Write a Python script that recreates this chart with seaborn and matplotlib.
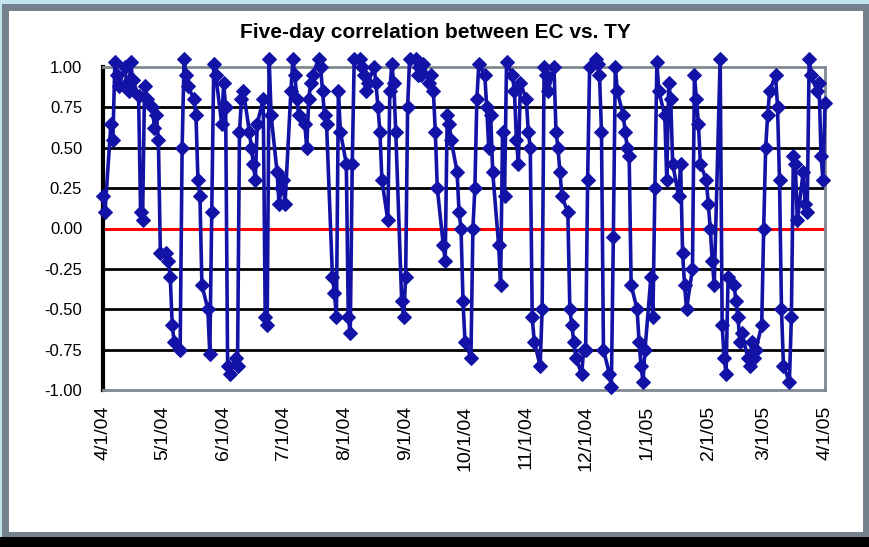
import pandas as pd
import matplotlib
matplotlib.use("Agg")
import matplotlib.pyplot as plt
import seaborn as sns
from matplotlib.patches import Rectangle

# daily 5-day correlation values, one list per month (business days)
apr04 = [0.2, 0.1, 0.65, 0.55, 1.03, 0.95, 0.88, 1.0, 0.9, 0.85, 1.03,
         0.92, 0.82, 0.1, 0.05, 0.88, 0.8, 0.75, 0.62, 0.7, 0.55, -0.15]
may04 = [-0.15, -0.2, -0.3, -0.6, -0.7, -0.75, 0.5, 1.05, 0.95, 0.88, 0.8,
         0.7, 0.3, 0.2, -0.35, -0.5, -0.78, 0.1, 1.02, 0.95, 0.65]
jun04 = [0.9, 0.75, -0.85, -0.9, -0.8, -0.85, 0.6, 0.8, 0.85, 0.6, 0.5,
         0.4, 0.3, 0.65, 0.8, -0.55, -0.6, 1.05, 0.7, 0.35, 0.15, 0.25]
jul04 = [0.3, 0.15, 0.85, 1.05, 0.95, 0.8, 0.7, 0.65, 0.5, 0.8, 0.9,
         0.95, 1.05, 1.0, 0.85, 0.7, 0.65, -0.3, -0.4, -0.55, 0.85, 0.6]
aug04 = [0.4, -0.55, -0.65, 0.4, 1.05, 1.05, 1.0, 0.95, 0.85, 0.9, 1.0,
         0.9, 0.75, 0.6, 0.3, 0.05, 0.85, 1.02, 0.9, 0.6, -0.45, -0.55]
sep04 = [-0.3, 0.75, 1.05, 1.05, 0.95, 1.0, 0.95, 1.02, 0.9, 0.95, 0.85,
         0.6, 0.25, -0.1, -0.2, 0.7, 0.65, 0.55, 0.35, 0.1, 0.0, -0.45]
oct04 = [-0.7, -0.8, 0.0, 0.25, 0.8, 1.02, 0.95, 0.75, 0.5, 0.7, 0.35,
         -0.1, -0.35, 0.6, 0.2, 1.03, 0.95, 0.85, 0.55, 0.4, 0.9]
nov04 = [0.8, 0.6, 0.5, -0.55, -0.7, -0.85, -0.5, 1.0, 0.95, 0.85, 1.0,
         0.6, 0.5, 0.35, 0.2, 0.1, -0.5, -0.6, -0.7, -0.8, -0.9, -0.75]
dec04 = [-0.75, 0.3, 1.0, 1.05, 1.02, 0.95, 0.6, -0.75, -0.9, -0.98, -0.05,
         1.0, 0.85, 0.7, 0.6, 0.5, 0.45, -0.35, -0.5, -0.7, -0.85, -0.95, -0.75]
jan05 = [-0.3, -0.55, 0.25, 1.03, 0.85, 0.7, 0.3, 0.9, 0.8, 0.4, 0.2,
         0.4, -0.15, -0.35, -0.5, -0.25, 0.95, 0.8, 0.65, 0.4, 0.3]
feb05 = [0.15, 0.0, -0.2, -0.35, 1.05, -0.6, -0.8, -0.9, -0.3, -0.35,
         -0.45, -0.55, -0.7, -0.65, -0.8, -0.85, -0.7, -0.8, -0.75, -0.6]
mar05 = [0.0, 0.5, 0.7, 0.85, 0.95, 0.75, 0.3, -0.5, -0.85, -0.95, -0.55,
         0.45, 0.4, 0.05, 0.35, 0.15, 0.1, 1.05, 0.95, 0.85, 0.9, 0.45, 0.3]
apr05 = [0.78]

corr = apr04 + may04 + jun04 + jul04 + aug04 + sep04 + oct04 + nov04 + dec04 + jan05 + feb05 + mar05 + apr05
dates = pd.bdate_range("2004-04-01", periods=len(corr))
df = pd.DataFrame({"date": dates, "corr": corr})

tick_labels = ["4/1/04", "5/1/04", "6/1/04", "7/1/04", "8/1/04", "9/1/04", "10/1/04",
               "11/1/04", "12/1/04", "1/1/05", "2/1/05", "3/1/05", "4/1/05"]
y_ticks = [1.0, 0.75, 0.5, 0.25, 0.0, -0.25, -0.5, -0.75, -1.0]

sns.set_style("white")
plt.rcParams["font.family"] = ["Liberation Sans", "DejaVu Sans"]

fig = plt.figure(figsize=(8.7, 5.47), dpi=100)
fig.patch.set_facecolor("#c0e3ee")

# outer frame + black strip at the bottom
fig.patches.append(Rectangle((5 / 870, 1 - 535 / 547), 861 / 870, 528 / 547,
                             transform=fig.transFigure, facecolor="white",
                             edgecolor="#74818d", linewidth=5, zorder=-2))
fig.patches.append(Rectangle((0, 0), 1, 10 / 547, transform=fig.transFigure,
                             facecolor="black", edgecolor="none", zorder=-2))

ax = fig.add_axes([103 / 870, 1 - 390 / 547, 722 / 870, 323 / 547])
ax.set_zorder(1)
ax.set_facecolor("white")

for v in y_ticks[1:-1]:
    if v == 0:
        ax.axhline(v, color="#ff0000", linewidth=2.2, zorder=1)
    else:
        ax.axhline(v, color="black", linewidth=2, zorder=1)

sns.lineplot(data=df, x="date", y="corr", ax=ax, color="#1212a6", linewidth=2.6,
             marker="D", markersize=7.5, markeredgecolor="#1212a6", clip_on=False, zorder=3)

ax.set_ylim(-1, 1)
ax.set_xlim(pd.Timestamp("2004-04-01"), pd.Timestamp("2005-04-01"))
ax.set_yticks(y_ticks)
ax.set_yticklabels([f"{v:.2f}" for v in y_ticks], fontsize=12, color="black")
tick_pos = pd.to_datetime(tick_labels, format="%m/%d/%y")
ax.set_xticks(tick_pos)
ax.set_xticklabels(tick_labels, rotation=90, fontsize=14, color="black")
ax.set_xlabel("")
ax.set_ylabel("")

for side in ["top", "right", "bottom"]:
    ax.spines[side].set_color("#808890")
    ax.spines[side].set_linewidth(2)
ax.spines["left"].set_color("black")
ax.spines["left"].set_linewidth(3)
ax.tick_params(axis="y", direction="out", length=6, width=2, color="black", pad=9)
ax.tick_params(axis="x", direction="out", length=6, width=1.5, color="#808890", pad=5)

fig.text(435 / 870, 1 - 32 / 547, "Five-day correlation between EC vs. TY",
         ha="center", va="center", fontsize=15, fontweight="bold", color="black")

plt.savefig("out.png", dpi=100, facecolor=fig.get_facecolor())
